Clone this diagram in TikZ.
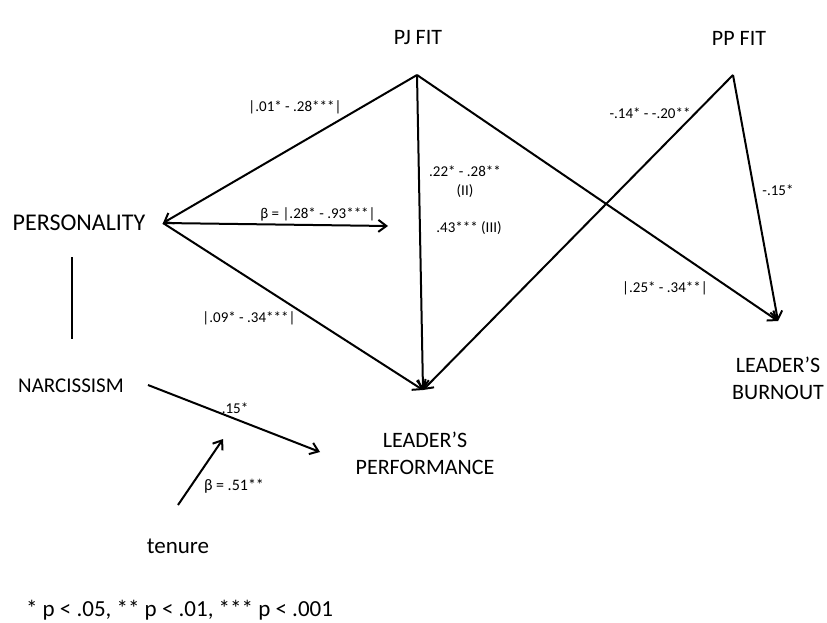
\documentclass[tikz,border=0pt]{standalone}
\usepackage{fontspec}
\setmainfont{Carlito}
\usetikzlibrary{arrows.meta}
\begin{document}
\begin{tikzpicture}[x=1pt,y=-1pt,>={Straight Barb[length=8pt,width=12pt]},line width=2pt,
  var/.style={font=\fontsize{22}{27}\selectfont,align=center,inner sep=0pt},
  coef/.style={font=\fontsize{15}{19}\selectfont,align=center,inner sep=0pt}]
\useasboundingbox (0,0) rectangle (827,623);
% corners of the model
\coordinate (pj) at (417,75);
\coordinate (pp) at (733,75);
\coordinate (pers) at (163,223);
\coordinate (hz) at (388,226);
\coordinate (perf) at (423,390);
\coordinate (burn) at (778,321);
\coordinate (n1) at (148,385);
\coordinate (n2) at (320,452);
\coordinate (t1) at (178,505);
\coordinate (t2) at (223,439);
\coordinate (v1) at (72,257);
\coordinate (v2) at (72,339);
% variables
\node[var] (pjfit) at (418,38) {PJ FIT};
\node[var] (ppfit) at (739,38) {PP FIT};
\node[var,font=\fontsize{24}{27}\selectfont] (personality) at (79,223) {PERSONALITY};
\node[var,font=\fontsize{21}{27}\selectfont] (narc) at (71,386) {NARCISSISM};
\node[var] (lperf) at (425,453) {LEADER’S\\PERFORMANCE};
\node[var] (lburn) at (778,378) {LEADER’S\\BURNOUT};
\node[var,font=\fontsize{23}{27}\selectfont] (tenure) at (178,546) {tenure};
\node[var,font=\fontsize{23}{27}\selectfont,anchor=west] (note) at (25,610) {* p < .05, ** p < .01, *** p < .001};
% paths
\draw[->] (pj) -- (pers);
\draw[->] (pers) -- (hz);
\draw[->] (pers) -- (perf);
\draw[->] (pj) -- (perf);
\draw[->] (pp) -- (perf);
\draw[->] (pj) -- (burn);
\draw[->] (pp) -- (burn);
\draw (v1) -- (v2);
\draw[->] (n1) -- (n2);
\draw[->] (t1) -- (t2);
% coefficients
\node[coef] (c1) at (295,107) {|.01* - .28***|};
\node[coef] (c2) at (318,214) {β = |.28* - .93***|};
\node[coef] (c3) at (249,318) {|.09* - .34***|};
\node[coef] (c4) at (465,182) {.22* - .28**\\(II)};
\node[coef] (c5) at (469,228) {.43*** (III)};
\node[coef] (c6) at (650,113) {-.14* - -.20**};
\node[coef] (c7) at (778,190) {-.15*};
\node[coef] (c8) at (665,288) {|.25* - .34**|};
\node[coef] (c9) at (235,408) {.15*};
\node[coef,font=\fontsize{16}{19}\selectfont] (c10) at (234,486) {β = .51**};
\end{tikzpicture}
\end{document}
